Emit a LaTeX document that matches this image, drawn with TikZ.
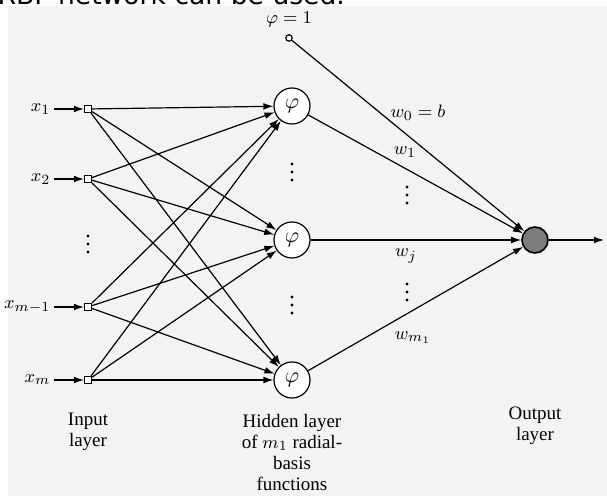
\documentclass[tikz,border=0pt]{standalone}
\usepackage{fontspec}
\setmainfont{Liberation Serif}
\newfontfamily\slidefont{DejaVu Sans}
\usepackage{tikz}
\usetikzlibrary{positioning, arrows.meta}
\definecolor{scanpaper}{HTML}{F3F3F1}
\definecolor{outshade}{HTML}{7C7C7C}

\begin{document}
\begin{tikzpicture}[
    x=0.5pt, y=-0.5pt,
    >={Latex[length=5pt, width=3.4pt]},
    font=\fontsize{9.5}{10.5}\selectfont,
    line width=0.6pt,
    inp/.style={draw, rectangle, fill=white, minimum size=3.5pt, inner sep=0pt},
    rbf/.style={draw, circle, fill=white, minimum size=18pt, inner sep=0pt, font=\fontsize{10.5}{12}\selectfont},
    outn/.style={draw, circle, fill=outshade, minimum size=13pt, inner sep=0pt, line width=0.8pt},
    biasn/.style={draw, circle, fill=white, minimum size=3.2pt, inner sep=0pt},
    xlabel/.style={inner sep=1.5pt},
    wlabel/.style={inner sep=1pt},
    caption/.style={align=center},
]

\useasboundingbox (0,0) rectangle (607,496);
\clip (0,0) rectangle (607,496);
\fill[scanpaper] (8,6) rectangle (607,496);

% === SLIDE TEXT (cut off) ===
\node[anchor=base west, inner sep=0pt, font=\slidefont\fontsize{13.3}{15}\selectfont]
    (note) at (-3,5) {RBF network can be used.};

% === INPUT LAYER ===
\node[inp] (inp1) at (88,109) {};
\node[inp] (inp2) at (88,179) {};
\node[inp] (inp3) at (88,307) {};
\node[inp] (inp4) at (88,380) {};

\node[xlabel, left=15pt of inp1] (lx1) {$x_1$};
\node[xlabel, left=15pt of inp2] (lx2) {$x_2$};
\node[xlabel, left=15pt of inp3] (lx3) {$x_{m-1}$};
\node[xlabel, left=15pt of inp4] (lx4) {$x_m$};

\draw[->] (lx1) -- (inp1);
\draw[->] (lx2) -- (inp2);
\draw[->] (lx3) -- (inp3);
\draw[->] (lx4) -- (inp4);

\coordinate (inpdots) at (88,244);
\foreach \d in {-8,0,8}
    \fill ([yshift=\d*0.5pt]inpdots) circle (0.8pt);

% === HIDDEN LAYER ===
\node[rbf] (rbf1) at (292,106) {$\varphi$};
\node[rbf] (rbf2) at (292,240) {$\varphi$};
\node[rbf] (rbf3) at (292,380) {$\varphi$};

\coordinate (rbfdots1) at (292,172);
\coordinate (rbfdots2) at (292,305);
\foreach \d in {-8,0,8} {
    \fill ([yshift=\d*0.5pt]rbfdots1) circle (0.8pt);
    \fill ([yshift=\d*0.5pt]rbfdots2) circle (0.8pt);
}

\foreach \i in {1,2,3,4}
    \foreach \j in {1,2,3}
        \draw[->] (inp\i) -- (rbf\j);

% === OUTPUT LAYER ===
\node[biasn] (bias) at (289,38) {};
\node[above=0pt of bias] (biaslbl) {$\varphi = 1$};

\node[outn] (out) at (535,240) {};
\coordinate (yend) at (604,240);

\draw[->] (bias) -- (out);
\draw[->] (rbf1) -- (out);
\draw[->] (rbf2) -- (out);
\draw[->] (rbf3) -- (out);
\draw[->] (out) -- (yend);

\node[wlabel] (w0) at (418,113) {$w_0 = b$};
\node[wlabel] (w1) at (405,152) {$w_1$};
\node[wlabel] (wj) at (406,256) {$w_j$};
\node[wlabel] (wm) at (413,338) {$w_{m_1}$};

\coordinate (wdots1) at (407,195);
\coordinate (wdots2) at (407,292);
\foreach \d in {-8,0,8} {
    \fill ([yshift=\d*0.5pt]wdots1) circle (0.8pt);
    \fill ([yshift=\d*0.5pt]wdots2) circle (0.8pt);
}

% === CAPTIONS ===
\node[caption, below=11pt of inp4] (capin) {Input\\layer};
\node[caption, below=4pt of rbf3] (caphid) {Hidden layer\\of $m_1$ radial-\\basis\\functions};
\node[caption, below=73pt of out] (capout) {Output\\layer};

\end{tikzpicture}
\end{document}
